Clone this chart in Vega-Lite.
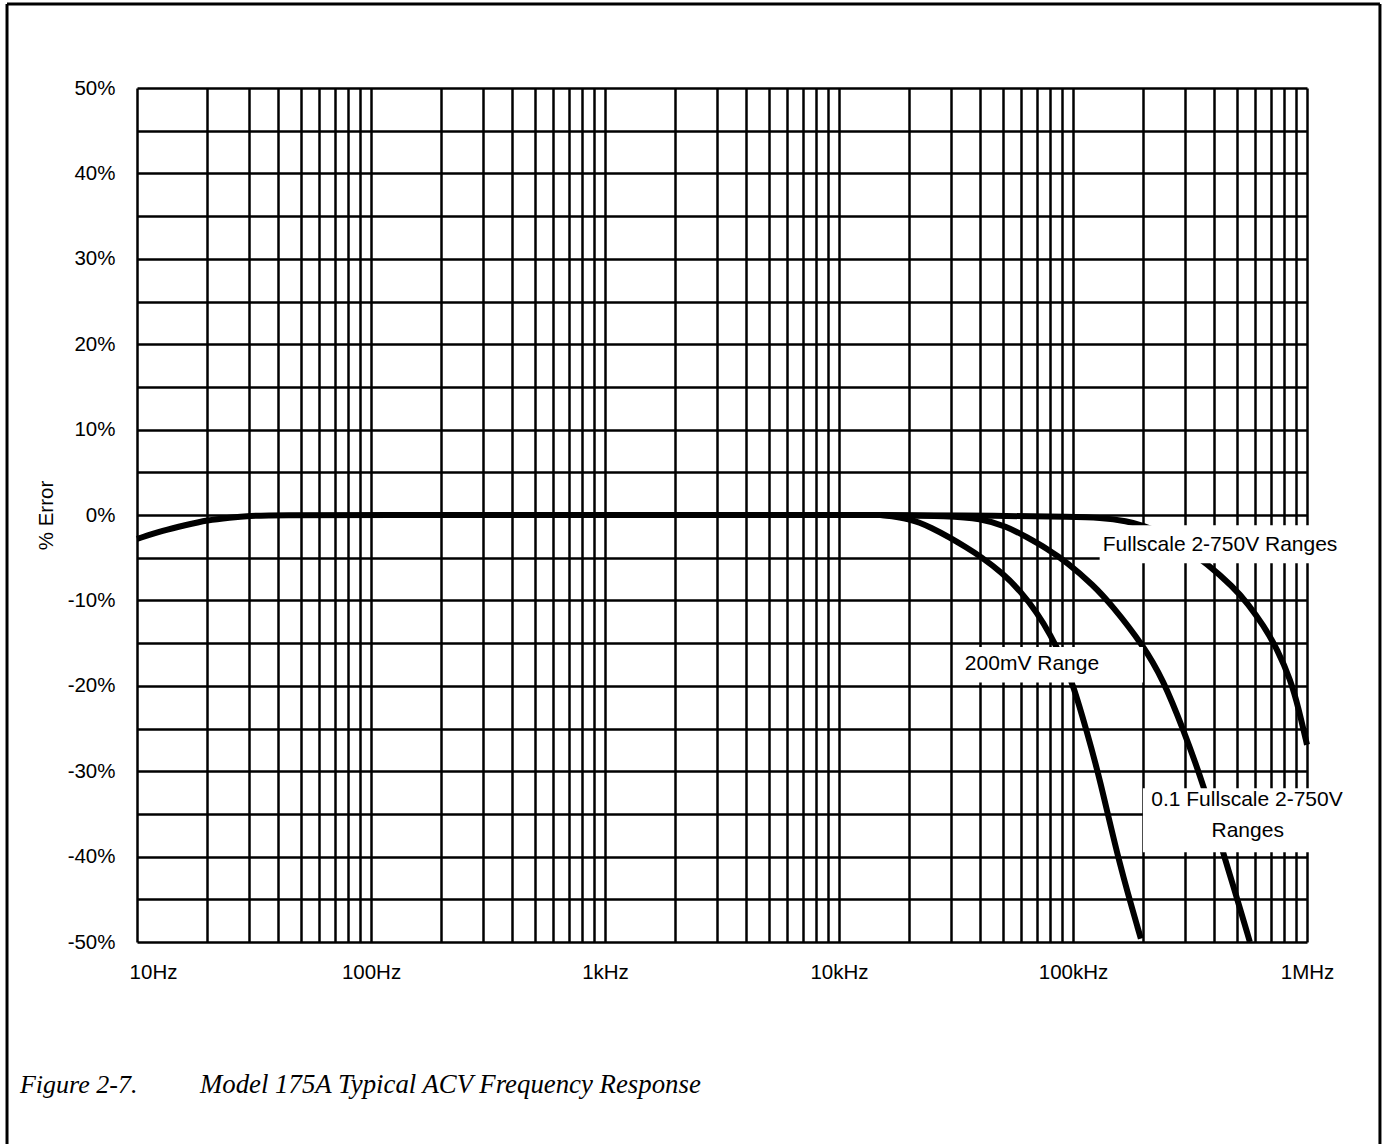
{
  "$schema": "https://vega.github.io/schema/vega-lite/v6.json",
  "width": 1170,
  "height": 854,
  "autosize": {"type": "none"},
  "padding": {"left": 137, "top": 88, "right": 76, "bottom": 202},
  "background": "white",
  "config": {
    "view": {"stroke": null},
    "font": "Liberation Sans",
    "axis": {
      "grid": true,
      "gridColor": "black",
      "gridWidth": 2.5,
      "gridOpacity": 1,
      "domain": false,
      "ticks": false,
      "labelColor": "black",
      "labelFont": "Liberation Sans",
      "labelFontSize": 20.5,
      "labelFlush": false,
      "labelBound": false,
      "labelOverlap": false,
      "titleColor": "black",
      "titleFont": "Liberation Sans",
      "titleFontSize": 20.5,
      "titleFontWeight": "normal"
    }
  },
  "datasets": {
    "curves": [
      {"series": "Common", "freq": 10, "pct": -2.8},
      {"series": "Common", "freq": 13, "pct": -1.8},
      {"series": "Common", "freq": 16, "pct": -1.2},
      {"series": "Common", "freq": 20, "pct": -0.6},
      {"series": "Common", "freq": 25, "pct": -0.3},
      {"series": "Common", "freq": 30, "pct": -0.1},
      {"series": "Common", "freq": 40, "pct": 0},
      {"series": "Common", "freq": 100, "pct": 0},
      {"series": "Common", "freq": 1000, "pct": 0},
      {"series": "Common", "freq": 10000, "pct": 0},
      {"series": "Common", "freq": 15000, "pct": 0},
      {"series": "200mV Range", "freq": 15000, "pct": 0},
      {"series": "200mV Range", "freq": 20000, "pct": -0.4},
      {"series": "200mV Range", "freq": 25000, "pct": -1.5},
      {"series": "200mV Range", "freq": 30000, "pct": -2.7},
      {"series": "200mV Range", "freq": 35000, "pct": -3.8},
      {"series": "200mV Range", "freq": 40000, "pct": -4.8},
      {"series": "200mV Range", "freq": 50000, "pct": -6.8},
      {"series": "200mV Range", "freq": 60000, "pct": -9.0},
      {"series": "200mV Range", "freq": 70000, "pct": -11.4},
      {"series": "200mV Range", "freq": 80000, "pct": -14.0},
      {"series": "200mV Range", "freq": 90000, "pct": -16.8},
      {"series": "200mV Range", "freq": 100000, "pct": -19.8},
      {"series": "200mV Range", "freq": 115000, "pct": -25.5},
      {"series": "200mV Range", "freq": 130000, "pct": -30.8},
      {"series": "200mV Range", "freq": 158000, "pct": -41.0},
      {"series": "200mV Range", "freq": 195000, "pct": -49.6},
      {"series": "0.1 Fullscale 2-750V Ranges", "freq": 15000, "pct": 0},
      {"series": "0.1 Fullscale 2-750V Ranges", "freq": 30000, "pct": -0.1},
      {"series": "0.1 Fullscale 2-750V Ranges", "freq": 40000, "pct": -0.4},
      {"series": "0.1 Fullscale 2-750V Ranges", "freq": 52000, "pct": -1.3},
      {"series": "0.1 Fullscale 2-750V Ranges", "freq": 63500, "pct": -2.6},
      {"series": "0.1 Fullscale 2-750V Ranges", "freq": 77000, "pct": -3.9},
      {"series": "0.1 Fullscale 2-750V Ranges", "freq": 94000, "pct": -5.5},
      {"series": "0.1 Fullscale 2-750V Ranges", "freq": 122000, "pct": -8.2},
      {"series": "0.1 Fullscale 2-750V Ranges", "freq": 146000, "pct": -10.5},
      {"series": "0.1 Fullscale 2-750V Ranges", "freq": 199000, "pct": -15.2},
      {"series": "0.1 Fullscale 2-750V Ranges", "freq": 243000, "pct": -19.3},
      {"series": "0.1 Fullscale 2-750V Ranges", "freq": 295000, "pct": -25.0},
      {"series": "0.1 Fullscale 2-750V Ranges", "freq": 366000, "pct": -32.0},
      {"series": "0.1 Fullscale 2-750V Ranges", "freq": 438000, "pct": -39.6},
      {"series": "0.1 Fullscale 2-750V Ranges", "freq": 483000, "pct": -43.3},
      {"series": "0.1 Fullscale 2-750V Ranges", "freq": 570000, "pct": -50.0},
      {"series": "Fullscale 2-750V Ranges", "freq": 15000, "pct": 0},
      {"series": "Fullscale 2-750V Ranges", "freq": 50000, "pct": -0.1},
      {"series": "Fullscale 2-750V Ranges", "freq": 100000, "pct": -0.2},
      {"series": "Fullscale 2-750V Ranges", "freq": 130000, "pct": -0.3},
      {"series": "Fullscale 2-750V Ranges", "freq": 170000, "pct": -0.7},
      {"series": "Fullscale 2-750V Ranges", "freq": 203000, "pct": -1.3},
      {"series": "Fullscale 2-750V Ranges", "freq": 235000, "pct": -2.0},
      {"series": "Fullscale 2-750V Ranges", "freq": 290000, "pct": -3.5},
      {"series": "Fullscale 2-750V Ranges", "freq": 374000, "pct": -5.7},
      {"series": "Fullscale 2-750V Ranges", "freq": 483000, "pct": -8.4},
      {"series": "Fullscale 2-750V Ranges", "freq": 560000, "pct": -10.4},
      {"series": "Fullscale 2-750V Ranges", "freq": 650000, "pct": -12.9},
      {"series": "Fullscale 2-750V Ranges", "freq": 750000, "pct": -15.8},
      {"series": "Fullscale 2-750V Ranges", "freq": 850000, "pct": -19.3},
      {"series": "Fullscale 2-750V Ranges", "freq": 920000, "pct": -22.6},
      {"series": "Fullscale 2-750V Ranges", "freq": 1000000, "pct": -26.9}
    ],
    "boxes": [
      {"box": "Fullscale 2-750V Ranges", "f1": 130000, "f2": 1450000, "p1": -1.2, "p2": -5.65},
      {"box": "200mV Range", "f1": 30700, "f2": 199000, "p1": -15.45, "p2": -19.6},
      {"box": "0.1 Fullscale 2-750V Ranges", "f1": 199000, "f2": 1480000, "p1": -32.0, "p2": -39.5}
    ],
    "labels": [
      {"label": "Fullscale 2-750V Ranges", "freq": 425000, "pct": -4.2},
      {"label": "200mV Range", "freq": 66800, "pct": -18.15},
      {"label": "0.1 Fullscale 2-750V", "freq": 554000, "pct": -34.07},
      {"label": "Ranges", "freq": 558000, "pct": -37.7}
    ]
  },
  "layer": [
    {
      "data": {"name": "curves"},
      "mark": {"type": "line", "color": "black", "strokeWidth": 6, "interpolate": "basis", "strokeCap": "butt", "strokeJoin": "round"},
      "encoding": {
        "x": {
          "field": "freq", "type": "quantitative", "title": null,
          "scale": {"type": "log", "domain": [10, 1000000], "nice": false},
          "axis": {
            "values": [10,20,30,40,50,60,70,80,90,100,200,300,400,500,600,700,800,900,1000,2000,3000,4000,5000,6000,7000,8000,9000,10000,20000,30000,40000,50000,60000,70000,80000,90000,100000,200000,300000,400000,500000,600000,700000,800000,900000,1000000],
            "labelExpr": "datum.value == 10 ? '10Hz' : datum.value == 100 ? '100Hz' : datum.value == 1000 ? '1kHz' : datum.value == 10000 ? '10kHz' : datum.value == 100000 ? '100kHz' : datum.value == 1000000 ? '1MHz' : ''",
            "labelPadding": 20,
            "labelOffset": {"condition": {"test": "datum.value == 10", "value": 16}, "value": 0}
          }
        },
        "y": {
          "field": "pct", "type": "quantitative", "title": "% Error",
          "scale": {"domain": [-50, 50], "nice": false},
          "axis": {
            "values": [-50,-45,-40,-35,-30,-25,-20,-15,-10,-5,0,5,10,15,20,25,30,35,40,45,50],
            "labelExpr": "datum.value % 10 == 0 ? datum.value + '%' : ''",
            "labelPadding": 22,
            "titlePadding": 11
          }
        },
        "detail": {"field": "series"}
      }
    },
    {
      "data": {"name": "boxes"},
      "mark": {"type": "rect", "fill": "white", "stroke": null},
      "encoding": {
        "x": {"field": "f1", "type": "quantitative", "title": null},
        "x2": {"field": "f2"},
        "y": {"field": "p1", "type": "quantitative", "title": "% Error"},
        "y2": {"field": "p2"}
      }
    },
    {
      "data": {"name": "labels"},
      "mark": {"type": "text", "font": "Liberation Sans", "fontSize": 21, "color": "black", "align": "center", "baseline": "alphabetic"},
      "encoding": {
        "x": {"field": "freq", "type": "quantitative", "title": null},
        "y": {"field": "pct", "type": "quantitative", "title": "% Error"},
        "text": {"field": "label"}
      }
    },
    {
      "data": {"values": [{}]},
      "mark": {"type": "rule", "color": "black", "strokeWidth": 3},
      "encoding": {
        "x": {"datum": 2.783},
        "y": {"datum": 59.84},
        "y2": {"datum": -73.7}
      }
    },
    {
      "data": {"values": [{}]},
      "mark": {"type": "rule", "color": "black", "strokeWidth": 3},
      "encoding": {
        "x": {"datum": 2050000},
        "y": {"datum": 59.84},
        "y2": {"datum": -73.7}
      }
    },
    {
      "data": {"values": [{}]},
      "mark": {"type": "rule", "color": "black", "strokeWidth": 3},
      "encoding": {
        "x": {"datum": 2.783},
        "x2": {"datum": 2050000},
        "y": {"datum": 59.84}
      }
    },
    {
      "data": {"values": [{}]},
      "mark": {"type": "text", "font": "Liberation Serif", "fontStyle": "italic", "fontSize": 26, "color": "black", "align": "left", "baseline": "alphabetic"},
      "encoding": {
        "x": {"datum": 3.162},
        "y": {"datum": -67.7},
        "text": {"value": "Figure 2-7."}
      }
    },
    {
      "data": {"values": [{}]},
      "mark": {"type": "text", "font": "Liberation Serif", "fontStyle": "italic", "fontSize": 26.8, "color": "black", "align": "left", "baseline": "alphabetic"},
      "encoding": {
        "x": {"datum": 18.58},
        "y": {"datum": -67.7},
        "text": {"value": "Model 175A Typical ACV Frequency Response"}
      }
    }
  ]
}
